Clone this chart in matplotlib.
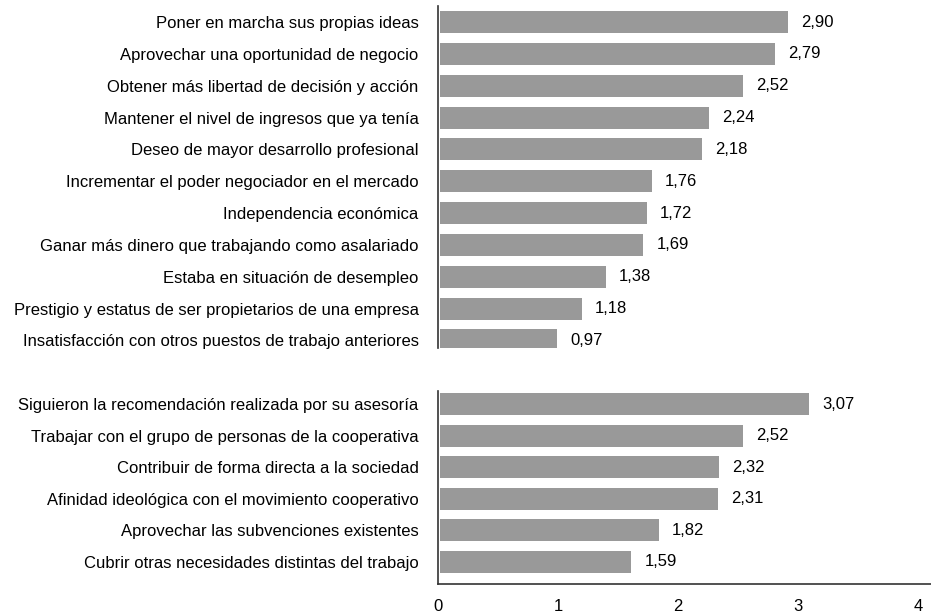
import matplotlib.pyplot as plt

plt.rcParams['font.family'] = ['Liberation Sans', 'DejaVu Sans']

motivos = [
    "Poner en marcha sus propias ideas",
    "Aprovechar una oportunidad de negocio",
    "Obtener más libertad de decisión y acción",
    "Mantener el nivel de ingresos que ya tenía",
    "Deseo de mayor desarrollo profesional",
    "Incrementar el poder negociador en el mercado",
    "Independencia económica",
    "Ganar más dinero que trabajando como asalariado",
    "Estaba en situación de desempleo",
    "Prestigio y estatus de ser propietarios de una empresa",
    "Insatisfacción con otros puestos de trabajo anteriores",
]
valores_motivos = [2.90, 2.79, 2.52, 2.24, 2.18, 1.76, 1.72, 1.69, 1.38, 1.18, 0.97]

coop = [
    "Siguieron la recomendación realizada por su asesoría",
    "Trabajar con el grupo de personas de la cooperativa",
    "Contribuir de forma directa a la sociedad",
    "Afinidad ideológica con el movimiento cooperativo",
    "Aprovechar las subvenciones existentes",
    "Cubrir otras necesidades distintas del trabajo",
]
valores_coop = [3.07, 2.52, 2.32, 2.31, 1.82, 1.59]

xticks = [0, 1, 2, 3, 4]

color_barra = "#999999"
fs = 12

fig = plt.figure(figsize=(9.31, 6.16), dpi=100)
ax1 = fig.add_axes([0.4705, 0.435, 0.5295, 0.555])
ax2 = fig.add_axes([0.4705, 0.052, 0.5295, 0.313], sharex=ax1)


def barras(ax, etiquetas, valores, ylim):
    pos = list(range(len(valores)))
    ax.barh(pos, valores, height=0.69, color=color_barra, left=0.02)
    for p, v in zip(pos, valores):
        ax.text(v + 0.13, p, f"{v:.2f}".replace(".", ","), va="center",
                ha="left", fontsize=fs)
    ax.set_yticks(pos)
    ax.set_yticklabels(etiquetas, fontsize=fs)
    ax.set_ylim(*ylim)
    ax.tick_params(axis="y", length=0, pad=14)
    for s in ["top", "right"]:
        ax.spines[s].set_visible(False)
    ax.spines["left"].set_color("#333333")
    ax.spines["left"].set_linewidth(1.2)


barras(ax1, motivos, valores_motivos, (10.24, -0.5))
barras(ax2, coop, valores_coop, (5.7, -0.41))

ax1.spines["bottom"].set_visible(False)
ax1.tick_params(axis="x", bottom=False, labelbottom=False)

ax2.set_xlim(0, 4.11)
ax2.set_xticks(xticks)
ax2.set_xticklabels([str(t) for t in xticks], fontsize=fs)
ax2.tick_params(axis="x", length=0, pad=11)
ax2.spines["bottom"].set_color("#333333")
ax2.spines["bottom"].set_linewidth(1.2)

fig.savefig("out.png", dpi=100)
